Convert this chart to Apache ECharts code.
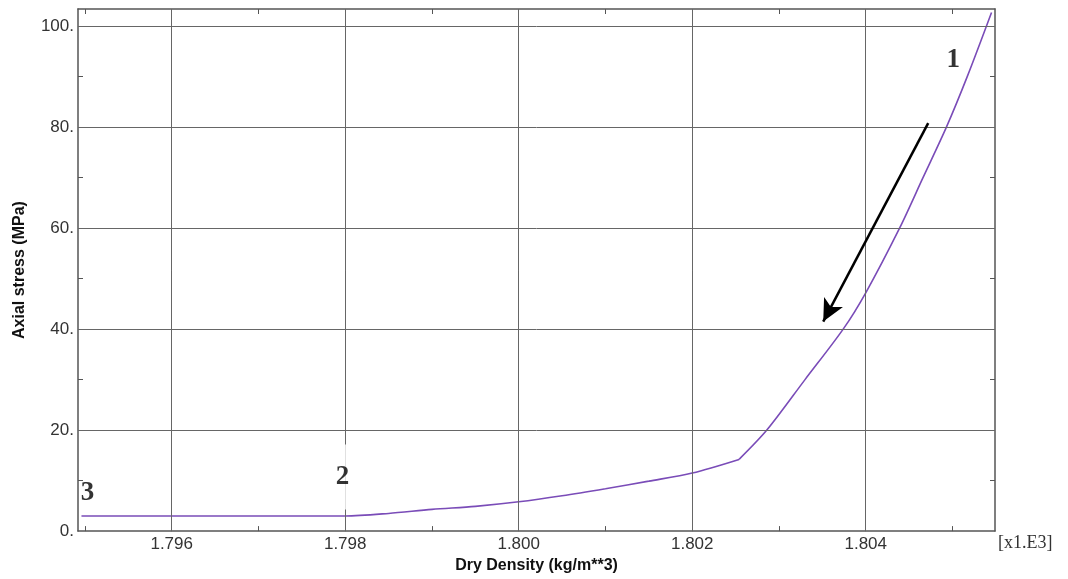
<!DOCTYPE html>
<html>
<head>
<meta charset="utf-8">
<script src="https://cdn.jsdelivr.net/npm/echarts@6/dist/echarts.min.js"></script>
<style>html,body{margin:0;padding:0;background:#fff}#c{width:1068px;height:579px}</style>
</head>
<body>
<div id="c"></div>
<script>
// Dry density (x1.E3 kg/m**3) and axial stress (MPa)
// segment before the kink
const densityLow = [1.79496, 1.796, 1.797, 1.798, 1.7985, 1.799, 1.7995, 1.800, 1.8005, 1.801, 1.8015, 1.802, 1.80254];
const stressLow  = [3.0, 3.0, 3.0, 3.0, 3.5, 4.3, 4.9, 5.8, 7.0, 8.4, 9.9, 11.5, 14.2];
// segment after the kink
const densityHigh = [1.80254, 1.80286, 1.8033, 1.80374, 1.8040, 1.80439, 1.80466, 1.80493, 1.80517, 1.80545];
const stressHigh  = [14.2, 20, 30, 40, 47.2, 60, 70, 80, 90, 102.7];

// Axis ticks
const xMajor = [1.796, 1.798, 1.800, 1.802, 1.804];
const xMinor = [1.795, 1.796, 1.797, 1.798, 1.799, 1.800, 1.801, 1.802, 1.803, 1.804, 1.805];
const yMajor = [0, 20, 40, 60, 80, 100];
const yMinor = [10, 20, 30, 40, 50, 60, 70, 80, 90, 100];

// Point annotations
const noteText = ['1', '2', '3'];
const noteX = [1.80501, 1.79797, 1.79503];
const noteY = [93.3, 10.7, 7.6];
const noteBox = [false, true, false];

// Arrow (data coordinates)
const arrowFrom = [1.80472, 80.8];
const arrowTo = [1.80351, 41.5];

const X_MIN = 1.79492, X_MAX = 1.80549, Y_MIN = 0, Y_MAX = 103.4;
const frame = '#555';
const tickFont = {fontFamily: 'Liberation Sans', fontSize: 17, color: '#333'};
const curveColor = '#7a4cb8';

const chart = echarts.init(document.getElementById('c'));
const baseX = {
  type: 'value', min: X_MIN, max: X_MAX,
  axisLine: {show: true, onZero: false, lineStyle: {color: frame, width: 1.5}},
  axisTick: {show: true, inside: true, length: 5, customValues: xMinor, lineStyle: {color: frame}},
  splitLine: {show: false}
};
const baseY = {
  type: 'value', min: Y_MIN, max: Y_MAX,
  axisLine: {show: true, onZero: false, lineStyle: {color: frame, width: 1.5}},
  axisTick: {show: true, inside: true, length: 5, customValues: yMinor, lineStyle: {color: frame}},
  splitLine: {show: false}
};

const gridLines = xMajor.map(v => [{coord: [v, Y_MIN]}, {coord: [v, Y_MAX]}])
  .concat(yMajor.filter(v => v > 0).map(v => [{coord: [X_MIN, v]}, {coord: [X_MAX, v]}]));

const curveSeries = (name, xs, ys) => ({
  name: name, type: 'line', z: 3,
  data: xs.map((d, i) => [d, ys[i]]),
  showSymbol: false, symbol: 'none', smooth: 0.3,
  lineStyle: {color: curveColor, width: 1.6},
  itemStyle: {color: curveColor}
});

chart.setOption({
  animation: false,
  backgroundColor: '#fff',
  grid: {left: 78, right: 73, top: 9, bottom: 47},
  xAxis: [
    Object.assign({}, baseX, {
      position: 'bottom',
      name: 'Dry Density (kg/m**3)', nameLocation: 'middle', nameGap: 26,
      nameTextStyle: {fontFamily: 'Liberation Sans', fontWeight: 'bold', fontSize: 16, color: '#111'},
      axisLabel: Object.assign({show: true, margin: 5, customValues: xMajor, formatter: v => v.toFixed(3)}, tickFont)
    }),
    Object.assign({}, baseX, {position: 'top', axisLabel: {show: false}})
  ],
  yAxis: [
    Object.assign({}, baseY, {
      position: 'left',
      name: 'Axial stress (MPa)', nameLocation: 'middle', nameGap: 50,
      nameTextStyle: {fontFamily: 'Liberation Sans', fontWeight: 'bold', fontSize: 16, color: '#111'},
      axisLabel: Object.assign({show: true, margin: 4, customValues: yMajor, formatter: v => v + '.'}, tickFont)
    }),
    Object.assign({}, baseY, {position: 'right', axisLabel: {show: false}})
  ],
  graphic: [{
    type: 'text', left: 998, top: 534,
    style: {text: '[x1.E3]', font: '18px "Liberation Serif"', fill: '#333'}
  }],
  series: [
    {
      name: 'grid', type: 'line', data: [], z: 1, silent: true,
      markLine: {
        silent: true, symbol: ['none', 'none'], animation: false,
        label: {show: false},
        lineStyle: {color: '#666', width: 1, type: 'solid'},
        emphasis: {disabled: true},
        data: gridLines
      }
    },
    curveSeries('low', densityLow, stressLow),
    curveSeries('high', densityHigh, stressHigh),
    {
      name: 'notes', type: 'scatter', z: 5,
      data: noteText.map((t, i) => ({
        value: [noteX[i], noteY[i], t],
        label: noteBox[i] ? {backgroundColor: '#fff', padding: [19, 4]} : {backgroundColor: 'transparent', padding: 0}
      })),
      symbolSize: 1, itemStyle: {color: 'rgba(0,0,0,0)'},
      label: {
        show: true, position: 'inside', formatter: p => p.value[2],
        fontFamily: 'Liberation Serif', fontWeight: 'bold', fontSize: 27, color: '#000'
      },
      markLine: {
        silent: true, symbol: ['none', 'arrow'], symbolSize: [16, 22],
        label: {show: false},
        lineStyle: {color: '#000', width: 2.5, type: 'solid'},
        emphasis: {disabled: true},
        data: [[{coord: arrowFrom}, {coord: arrowTo}]]
      }
    }
  ]
});
</script>
</body>
</html>
